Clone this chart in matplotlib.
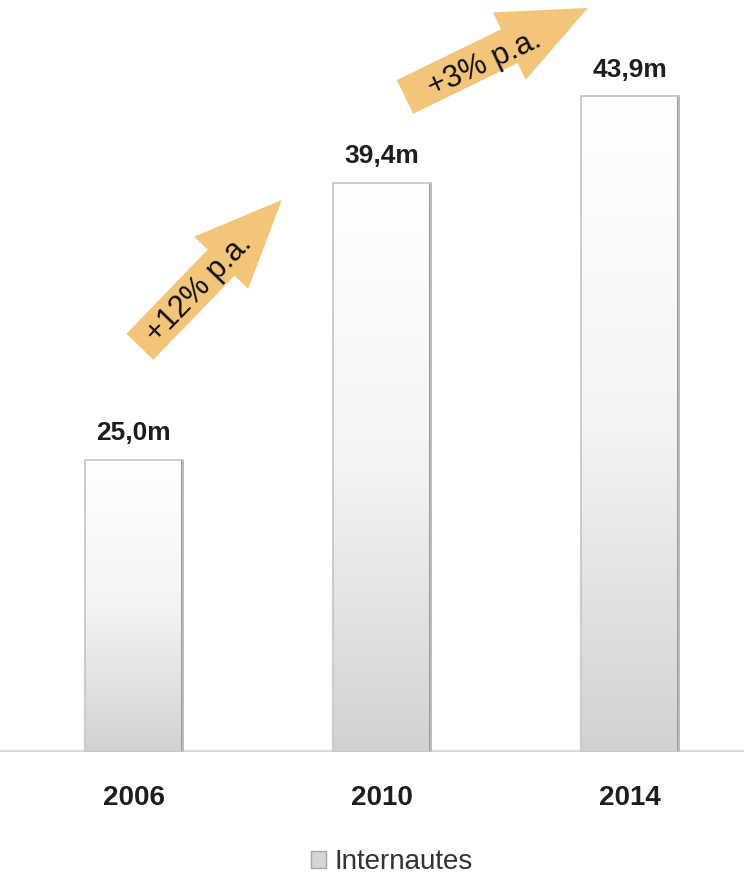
import matplotlib.pyplot as plt
import numpy as np
from matplotlib.colors import LinearSegmentedColormap
from matplotlib.patches import Rectangle, Patch

plt.rcParams["font.family"] = ["Liberation Sans", "DejaVu Sans"]

# Internet users (millions)
years = ["2006", "2010", "2014"]
users = [25.0, 39.4, 43.9]
value_labels = ["25,0m", "39,4m", "43,9m"]
series_name = "Internautes"
growth_labels = ["+12% p.a.", "+3% p.a."]

y_floor = 9.8
bar_width = 0.395
arrow_color = "#f3c57b"

fig = plt.figure(figsize=(7.44, 8.77), dpi=100)
ax = fig.add_axes([0, 125 / 877, 1, 752 / 877])

grad = LinearSegmentedColormap.from_list("bar", ["#ffffff", "#f4f4f4", "#d2d2d2"])
x = np.arange(len(years))
for xi, v, lab in zip(x, users, value_labels):
    left = xi - bar_width / 2
    img = np.linspace(0, 1, 256).reshape(-1, 1)
    ax.imshow(img, cmap=grad, aspect="auto", origin="upper",
              extent=(left, left + bar_width, y_floor, v), zorder=2)
    # soft shadow on the right edge
    ax.add_patch(Rectangle((left + bar_width - 0.008, y_floor), 0.012, v - y_floor,
                           facecolor="#9a9a9a", edgecolor="none", zorder=3))
    ax.add_patch(Rectangle((left, y_floor), bar_width, v - y_floor,
                           facecolor="none", edgecolor="#c4c4c4", lw=1.2, zorder=4))
    ax.text(xi, v + 0.75, lab, ha="center", va="bottom", fontsize=19,
            fontweight="bold", color="#1e1e1e")

ax.axhline(y_floor, color="#d9d9d9", lw=3, zorder=1)

# growth arrows between periods
arrows = [((0.024, 30.87), (0.597, 38.51)), ((1.093, 43.86), (1.831, 48.49))]
for (tail, tip) in arrows:
    ax.annotate("", xy=tip, xytext=tail,
                arrowprops=dict(arrowstyle="simple,head_length=6.3,head_width=5.4,tail_width=2.7",
                                mutation_scale=10, fc=arrow_color, ec="none",
                                shrinkA=0, shrinkB=0), zorder=5)
ax.text(0.262, 33.9, growth_labels[0], rotation=46, rotation_mode="anchor",
        ha="center", va="center", fontsize=22, color="#111111", zorder=6)
ax.text(1.415, 45.6, growth_labels[1], rotation=25, rotation_mode="anchor",
        ha="center", va="center", fontsize=22, color="#111111", zorder=6)

ax.set_xlim(-0.54, 2.46)
ax.set_ylim(y_floor, 48.9)
ax.set_xticks(x)
ax.set_xticklabels(years, fontsize=20, fontweight="bold", color="#1e1e1e")
ax.tick_params(axis="x", length=0, pad=24)
ax.set_yticks([])
for s in ax.spines.values():
    s.set_visible(False)
ax.patch.set_alpha(0)

handle = Patch(facecolor="#d6d6d6", edgecolor="#a8a8a8")
fig.legend([handle], [series_name], loc="center", bbox_to_anchor=(392 / 744, 15 / 877),
           frameon=False, fontsize=20, handlelength=0.55, handleheight=0.55,
           handletextpad=0.3, labelcolor="#333333")

fig.savefig("out.png", dpi=100, facecolor="white")
